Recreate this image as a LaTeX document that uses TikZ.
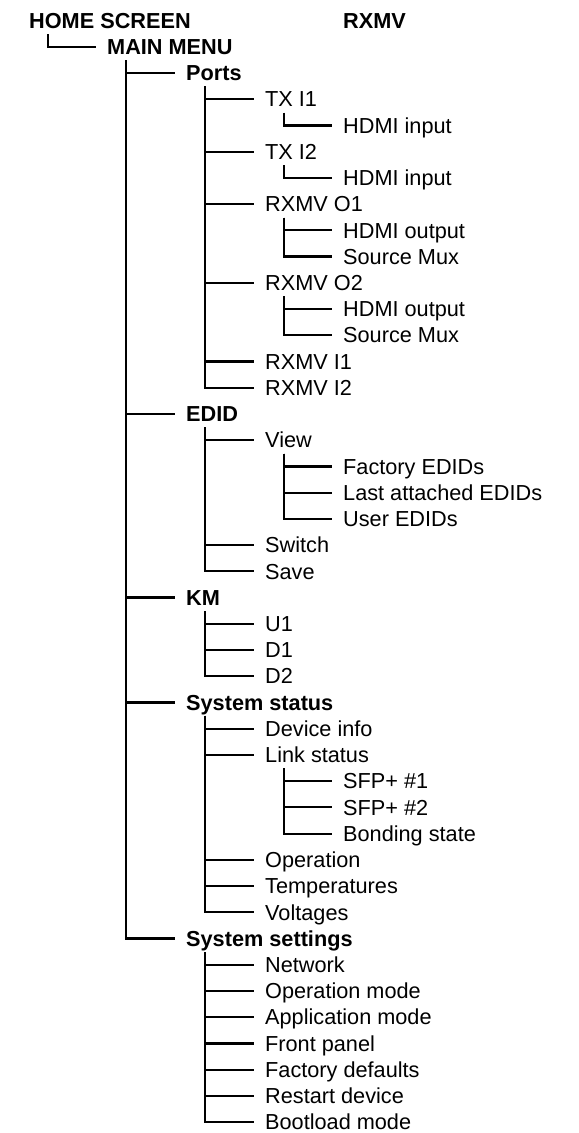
\documentclass[tikz,border=0pt]{standalone}
\usepackage{fontspec}
\setmainfont{Liberation Sans}

\tikzset{
  entry/.style={anchor=west, inner sep=0pt, text height=15.4pt, text depth=0pt,
    font=\fontsize{21.7}{25}\selectfont},
  menu/.style={entry, font=\fontsize{21.7}{25}\selectfont\bfseries},
  branch/.style={line width=2.2pt, black}
}

\begin{document}
\begin{tikzpicture}[x=1pt, y=-26.23pt]
    \path[use as bounding box] (0,-0.7816) rectangle (579,42.414);

    % Title row
    \node[menu] (home) at (29,0) {HOME SCREEN};
    \node[menu] (rxmv) at (343,0) {RXMV};
    \node[menu] (mainmenu) at (107,1) {MAIN MENU};

    % Ports
    \node[menu] (ports) at (186,2) {Ports};
    \node[entry] (txi1) at (265,3) {TX I1};
    \node[entry] (txi1hdmi) at (343,4) {HDMI input};
    \node[entry] (txi2) at (265,5) {TX I2};
    \node[entry] (txi2hdmi) at (343,6) {HDMI input};
    \node[entry] (rxo1) at (265,7) {RXMV O1};
    \node[entry] (rxo1hdmi) at (343,8) {HDMI output};
    \node[entry] (rxo1mux) at (343,9) {Source Mux};
    \node[entry] (rxo2) at (265,10) {RXMV O2};
    \node[entry] (rxo2hdmi) at (343,11) {HDMI output};
    \node[entry] (rxo2mux) at (343,12) {Source Mux};
    \node[entry] (rxi1) at (265,13) {RXMV I1};
    \node[entry] (rxi2) at (265,14) {RXMV I2};

    % EDID
    \node[menu] (edid) at (186,15) {EDID};
    \node[entry] (view) at (265,16) {View};
    \node[entry] (factedid) at (343,17) {Factory EDIDs};
    \node[entry] (lastedid) at (343,18) {Last attached EDIDs};
    \node[entry] (useredid) at (343,19) {User EDIDs};
    \node[entry] (edidswitch) at (265,20) {Switch};
    \node[entry] (edidsave) at (265,21) {Save};

    % KM
    \node[menu] (km) at (186,22) {KM};
    \node[entry] (u1) at (265,23) {U1};
    \node[entry] (d1) at (265,24) {D1};
    \node[entry] (d2) at (265,25) {D2};

    % System status
    \node[menu] (sysstat) at (186,26) {System status};
    \node[entry] (devinfo) at (265,27) {Device info};
    \node[entry] (linkstat) at (265,28) {Link status};
    \node[entry] (sfp1) at (343,29) {SFP+ \#1};
    \node[entry] (sfp2) at (343,30) {SFP+ \#2};
    \node[entry] (bonding) at (343,31) {Bonding state};
    \node[entry] (operation) at (265,32) {Operation};
    \node[entry] (temps) at (265,33) {Temperatures};
    \node[entry] (volts) at (265,34) {Voltages};

    % System settings
    \node[menu] (sysset) at (186,35) {System settings};
    \node[entry] (network) at (265,36) {Network};
    \node[entry] (opmode) at (265,37) {Operation mode};
    \node[entry] (appmode) at (265,38) {Application mode};
    \node[entry] (frontpanel) at (265,39) {Front panel};
    \node[entry] (factdef) at (265,40) {Factory defaults};
    \node[entry] (restart) at (265,41) {Restart device};
    \node[entry] (bootload) at (265,42) {Bootload mode};

    % Tree branches
    \draw[branch] ([shift={(19pt,-13.5pt)}]home.west) |- ([xshift=-10.5pt]mainmenu.west);
    \foreach \c in {ports,edid,km,sysstat,sysset}
        \draw[branch] ([shift={(19pt,-13.5pt)}]mainmenu.west) |- ([xshift=-10.5pt]\c.west);
    \foreach \c in {txi1,txi2,rxo1,rxo2,rxi1,rxi2}
        \draw[branch] ([shift={(19pt,-13.5pt)}]ports.west) |- ([xshift=-10.5pt]\c.west);
    \draw[branch] ([shift={(19pt,-13.5pt)}]txi1.west) |- ([xshift=-10.5pt]txi1hdmi.west);
    \draw[branch] ([shift={(19pt,-13.5pt)}]txi2.west) |- ([xshift=-10.5pt]txi2hdmi.west);
    \foreach \c in {rxo1hdmi,rxo1mux}
        \draw[branch] ([shift={(19pt,-13.5pt)}]rxo1.west) |- ([xshift=-10.5pt]\c.west);
    \foreach \c in {rxo2hdmi,rxo2mux}
        \draw[branch] ([shift={(19pt,-13.5pt)}]rxo2.west) |- ([xshift=-10.5pt]\c.west);
    \foreach \c in {view,edidswitch,edidsave}
        \draw[branch] ([shift={(19pt,-13.5pt)}]edid.west) |- ([xshift=-10.5pt]\c.west);
    \foreach \c in {factedid,lastedid,useredid}
        \draw[branch] ([shift={(19pt,-13.5pt)}]view.west) |- ([xshift=-10.5pt]\c.west);
    \foreach \c in {u1,d1,d2}
        \draw[branch] ([shift={(19pt,-13.5pt)}]km.west) |- ([xshift=-10.5pt]\c.west);
    \foreach \c in {devinfo,linkstat,operation,temps,volts}
        \draw[branch] ([shift={(19pt,-13.5pt)}]sysstat.west) |- ([xshift=-10.5pt]\c.west);
    \foreach \c in {sfp1,sfp2,bonding}
        \draw[branch] ([shift={(19pt,-13.5pt)}]linkstat.west) |- ([xshift=-10.5pt]\c.west);
    \foreach \c in {network,opmode,appmode,frontpanel,factdef,restart,bootload}
        \draw[branch] ([shift={(19pt,-13.5pt)}]sysset.west) |- ([xshift=-10.5pt]\c.west);
\end{tikzpicture}
\end{document}
